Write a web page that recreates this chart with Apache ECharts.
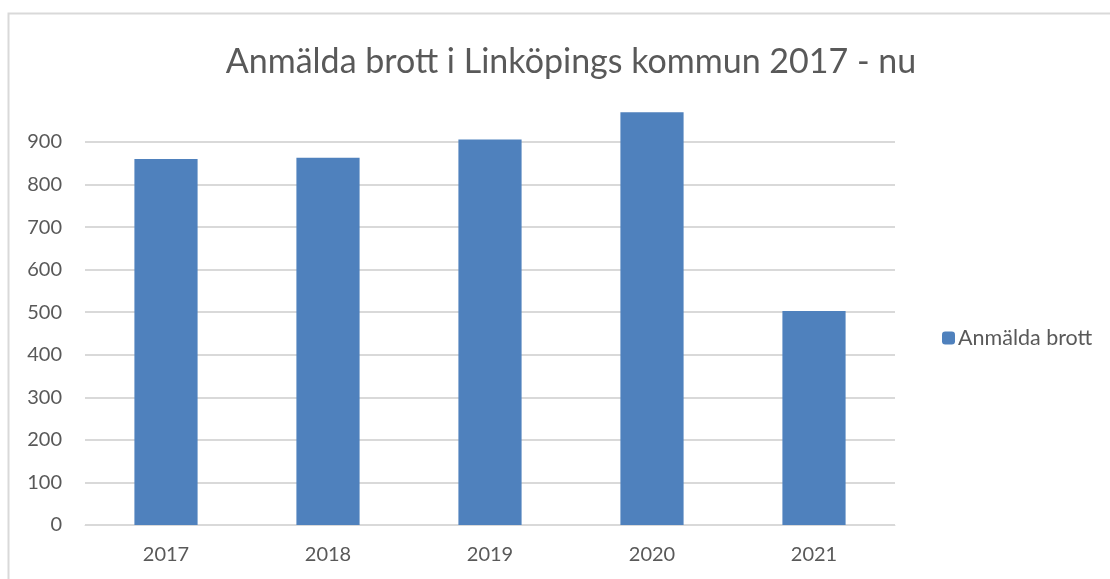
<!DOCTYPE html>
<html>
<head>
<meta charset="utf-8">
<script src="https://cdn.jsdelivr.net/npm/echarts@6/dist/echarts.min.js"></script>
<style>
  html, body { margin: 0; padding: 0; background: #fff; overflow: hidden; }
  #chart { width: 1110px; height: 579px; }
</style>
</head>
<body>
<div id="chart"></div>
<script>
// data
var years = ['2017', '2018', '2019', '2020', '2021'];
var brott = [860, 863, 906, 970, 503];
var yTicks = [0, 100, 200, 300, 400, 500, 600, 700, 800, 900];

var chart = echarts.init(document.getElementById('chart'));
var txt = '#595959';
var font = 'Lato, "Open Sans", sans-serif';

var option = {
  animation: false,
  textStyle: { fontFamily: font },
  graphic: [{
    type: 'rect',
    shape: { x: 8.5, y: 13.5, width: 1200, height: 700 },
    style: { fill: 'none', stroke: '#d9d9d9', lineWidth: 2 },
    silent: true
  }],
  title: {
    text: 'Anmälda brott i Linköpings kommun 2017 - nu',
    left: 566,
    textAlign: 'center',
    top: 40,
    textStyle: { fontFamily: font, fontSize: 34, fontWeight: 'normal', color: txt }
  },
  legend: {
    data: ['Anmälda brott'],
    orient: 'vertical',
    left: 937,
    top: 322,
    itemWidth: 13,
    itemHeight: 13,
    itemGap: 6,
    textStyle: { fontFamily: font, fontSize: 21.5, color: txt, padding: [0, 0, 0, -2] }
  },
  grid: { left: 85, right: 215, top: 99.4, bottom: 54, containLabel: false },
  xAxis: {
    type: 'category',
    data: years,
    axisLine: { lineStyle: { color: '#d9d9d9', width: 1 } },
    axisTick: { show: false },
    axisLabel: { fontFamily: font, fontSize: 20, color: txt, margin: 20 }
  },
  yAxis: {
    type: 'value',
    min: yTicks[0],
    max: 1000,
    interval: yTicks[1] - yTicks[0],
    axisLine: { show: false },
    axisTick: { show: false },
    axisLabel: {
      fontFamily: font, fontSize: 20, color: txt, margin: 23,
      showMaxLabel: false,
      formatter: function (v) { return yTicks.indexOf(v) >= 0 ? String(v) : ''; }
    },
    splitLine: { showMaxLine: false, lineStyle: { color: '#d9d9d9', width: 2 } }
  },
  series: [{
    name: 'Anmälda brott',
    type: 'bar',
    data: brott,
    barWidth: '39%',
    itemStyle: { color: '#4f81bd' }
  }]
};
chart.setOption(option);
</script>
</body>
</html>
